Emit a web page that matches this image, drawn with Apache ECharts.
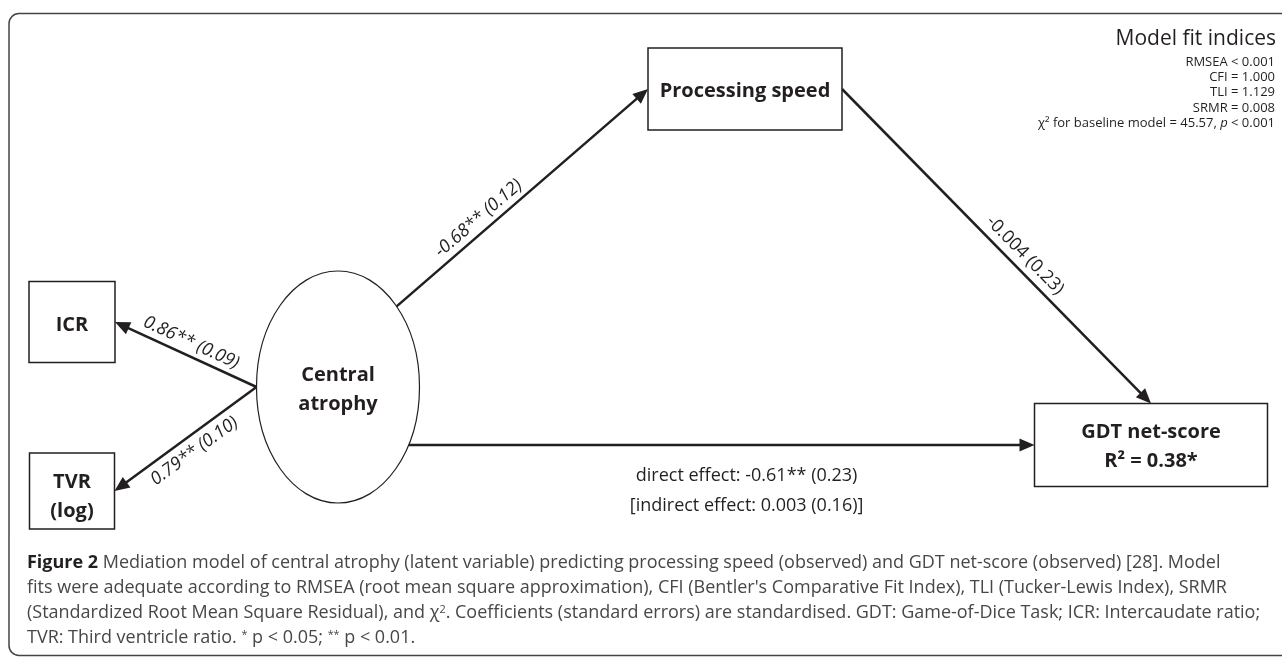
<!DOCTYPE html>
<html>
<head>
<meta charset="utf-8">
<title>Mediation model of central atrophy</title>
<script src="https://cdn.jsdelivr.net/npm/echarts@6/dist/echarts.min.js"></script>
<style>
  html, body { margin: 0; padding: 0; background: #fff; }
  #chart { width: 1282px; height: 660px; }
</style>
</head>
<body>
<div id="chart"></div>
<script>
// variables of the path model
const nodeNames = ['Central atrophy', 'Processing speed', 'ICR', 'TVR', 'GDT net-score'];
const nodeTypes = ['latent', 'observed', 'observed', 'observed', 'observed'];
const nodeNotes = ['', '', '', '(log)', ''];

// paths: standardised coefficient, significance stars, standard error
const pathSources = ['Central atrophy', 'Processing speed', 'Central atrophy', 'Central atrophy', 'Central atrophy'];
const pathTargets = ['Processing speed', 'GDT net-score', 'ICR', 'TVR', 'GDT net-score'];
const pathEstimates = ['-0.68', '-0.004', '0.86', '0.79', '-0.61'];
const pathStars = ['**', '', '**', '**', '**'];
const pathErrors = ['0.12', '0.23', '0.09', '0.10', '0.23'];

const indirectEstimate = '0.003';
const indirectError = '0.16';
const gdtRSquared = '0.38';
const gdtStars = '*';

// model fit
const fitIndexNames = ['RMSEA', 'CFI', 'TLI', 'SRMR'];
const fitIndexSigns = ['<', '=', '=', '='];
const fitIndexValues = ['0.001', '1.000', '1.129', '0.008'];
const baselineChiSquare = '45.57';
const baselineP = '< 0.001';

const captionLines = [
  '{b|Figure 2} Mediation model of central atrophy (latent variable) predicting processing speed (observed) and GDT net-score (observed) [28]. Model',
  'fits were adequate according to RMSEA (root mean square approximation), CFI (Bentler\'s Comparative Fit Index), TLI (Tucker-Lewis Index), SRMR',
  '(Standardized Root Mean Square Residual), and χ{s|2}. Coefficients (standard errors) are standardised. GDT: Game-of-Dice Task; ICR: Intercaudate ratio;',
  'TVR: Third ventricle ratio. {s|*} p < 0.05; {s|**} p < 0.01.'
];

// drawing layout (pixel units of the hidden axes)
const layout = {
  'Central atrophy': { x: 338, y: 387, w: 163, h: 232, dy: 3 },
  'Processing speed': { x: 745, y: 89, w: 194, h: 82, dy: 2 },
  'ICR': { x: 72, y: 322, w: 86, h: 81, dy: 3 },
  'TVR': { x: 72, y: 491, w: 85, h: 76, dy: 6 },
  'GDT net-score': { x: 1151, y: 445, w: 233, h: 83, dy: 2 }
};
// anchor: number = angle on the ellipse, string = side of a box
const pathLayout = [
  { from: -44, to: 'left', t: 0.36, off: 13, italic: true },
  { from: 'right', to: 'top', t: 0.56, off: 14, italic: false },
  { from: 180, to: 'right', t: 0.5, off: 13, italic: true },
  { from: 180, to: 'right', t: 0.5, off: -15, italic: true },
  { from: 30, to: 'left', t: 0.54, off: -46, italic: false }
];

const ink = '#231f20';
const captionInk = '#474747';
const font = '"Open Sans", "Noto Sans", sans-serif';

function anchorPoint(name, spec) {
  const n = layout[name];
  if (typeof spec === 'number') {
    const a = spec * Math.PI / 180;
    return [n.x + n.w / 2 * Math.cos(a), n.y + n.h / 2 * Math.sin(a)];
  }
  if (spec === 'left') return [n.x - n.w / 2, n.y];
  if (spec === 'right') return [n.x + n.w / 2, n.y];
  if (spec === 'top') return [n.x, n.y - n.h / 2];
  return [n.x, n.y + n.h / 2];
}

function pathLabel(i) {
  const coef = pathEstimates[i] + pathStars[i] + ' (' + pathErrors[i] + ')';
  if (i === 4) {
    return 'direct effect: ' + coef + '\n[indirect effect: ' + indirectEstimate + ' (' + indirectError + ')]';
  }
  return coef;
}

function nodeLabel(i) {
  let s = nodeNames[i];
  if (nodeNames[i] === 'Central atrophy') s = 'Central\natrophy';
  if (nodeNotes[i]) s += '\n' + nodeNotes[i];
  if (nodeNames[i] === 'GDT net-score') s += '\nR² = ' + gdtRSquared + gdtStars;
  return s;
}

// caption size: the widest of the full lines fits the frame
const measure = document.createElement('canvas').getContext('2d');
function widthAt(str, weight) {
  measure.font = weight + ' 16px ' + font;
  return measure.measureText(str).width;
}
const capWidths = captionLines.slice(0, 3).map(line => {
  const bold = (line.match(/\{b\|([^}]*)\}/) || [null, ''])[1];
  const plain = line.replace(/\{b\|[^}]*\}/, '').replace(/\{s\|([^}]*)\}/g, '$1');
  return widthAt(bold, 'bold') + widthAt(plain, 'normal');
});
const capSize = Math.min(20, 16 * 1238 / Math.max.apply(null, capWidths));

const chart = echarts.init(document.getElementById('chart'));

chart.setOption({
  animation: false,
  grid: { left: 0, right: 0, top: 0, bottom: 0 },
  xAxis: { type: 'value', min: 0, max: 1282, show: false },
  yAxis: { type: 'value', min: 0, max: 660, inverse: true, show: false },
  graphic: [
    {
      type: 'rect',
      shape: { x: 9, y: 13.5, width: 1290, height: 642, r: 10 },
      style: { fill: 'none', stroke: '#444', lineWidth: 1.5 },
      z: 0
    }
  ].concat(captionLines.map((line, i) => ({
    type: 'text',
    x: 27,
    y: 563 + 25 * i,
    style: {
      text: line,
      fill: captionInk,
      font: capSize + 'px ' + font,
      verticalAlign: 'middle',
      rich: {
        b: { fontWeight: 'bold', fill: ink, fontSize: capSize, fontFamily: font, lineHeight: 24 },
        s: { fontSize: capSize * 0.6, fontFamily: font, verticalAlign: 'top', lineHeight: 12, fill: captionInk }
      }
    }
  }))),
  series: [
    {
      type: 'custom',
      name: 'paths',
      coordinateSystem: 'cartesian2d',
      data: pathEstimates.map((e, i) => [i, Number(e)]),
      renderItem: function (params, api) {
        const i = params.dataIndex;
        const pl = pathLayout[i];
        const p1 = api.coord(anchorPoint(pathSources[i], pl.from));
        const p2 = api.coord(anchorPoint(pathTargets[i], pl.to));
        const dx = p2[0] - p1[0], dy = p2[1] - p1[1];
        const len = Math.hypot(dx, dy);
        const ux = dx / len, uy = dy / len;
        const head = 15, half = 6.5;
        const bx = p2[0] - ux * head, by = p2[1] - uy * head;
        let r = Math.atan2(-dy, dx);
        if (r > Math.PI / 2) r -= Math.PI;
        else if (r < -Math.PI / 2) r += Math.PI;
        const upx = -Math.sin(r), upy = -Math.cos(r);
        const lx = p1[0] + dx * pl.t + upx * pl.off;
        const ly = p1[1] + dy * pl.t + upy * pl.off;
        return {
          type: 'group',
          children: [
            {
              type: 'line',
              shape: { x1: p1[0], y1: p1[1], x2: bx + ux, y2: by + uy },
              style: { stroke: ink, lineWidth: 2.5 }
            },
            {
              type: 'polygon',
              shape: { points: [p2, [bx - uy * half, by + ux * half], [bx + uy * half, by - ux * half]] },
              style: { fill: ink }
            },
            {
              type: 'text',
              x: lx,
              y: ly,
              rotation: i === 4 ? 0 : r,
              style: {
                text: pathLabel(i),
                align: 'center',
                verticalAlign: 'middle',
                fill: ink,
                font: (pl.italic ? 'italic ' : '') + '18px ' + font,
                lineHeight: 30
              }
            }
          ]
        };
      },
      z: 2
    },
    {
      type: 'custom',
      name: 'variables',
      coordinateSystem: 'cartesian2d',
      data: nodeNames.map((n, i) => [layout[n].x, layout[n].y]),
      renderItem: function (params, api) {
        const i = params.dataIndex;
        const n = layout[nodeNames[i]];
        const c = api.coord([n.x, n.y]);
        const shape = nodeTypes[i] === 'latent'
          ? { type: 'ellipse', shape: { cx: c[0], cy: c[1], rx: n.w / 2, ry: n.h / 2 }, style: { fill: '#fff', stroke: ink, lineWidth: 1.2 } }
          : { type: 'rect', shape: { x: c[0] - n.w / 2, y: c[1] - n.h / 2, width: n.w, height: n.h }, style: { fill: '#fff', stroke: ink, lineWidth: 1.5 } };
        return {
          type: 'group',
          children: [
            shape,
            {
              type: 'text',
              x: c[0],
              y: c[1] + n.dy,
              style: {
                text: nodeLabel(i),
                align: 'center',
                verticalAlign: 'middle',
                fill: ink,
                font: 'bold 20px ' + font,
                lineHeight: 29
              }
            }
          ]
        };
      },
      z: 3
    },
    {
      type: 'custom',
      name: 'fit indices',
      coordinateSystem: 'cartesian2d',
      data: fitIndexValues.concat([baselineChiSquare]).map((v, i) => [i, Number(v)]),
      renderItem: function (params, api) {
        const i = params.dataIndex;
        const p = api.coord([1275, 62 + 15.3 * i]);
        const text = i < fitIndexNames.length
          ? fitIndexNames[i] + ' ' + fitIndexSigns[i] + ' ' + fitIndexValues[i]
          : 'χ² for baseline model = ' + baselineChiSquare + ', {i|p} ' + baselineP;
        const children = [{
          type: 'text',
          x: p[0],
          y: p[1],
          style: {
            text: text,
            align: 'right',
            verticalAlign: 'middle',
            fill: ink,
            font: '13px ' + font,
            rich: { i: { fontStyle: 'italic', fontSize: 13, fontFamily: font, fill: ink } }
          }
        }];
        if (i === 0) {
          const h = api.coord([1276, 39]);
          children.push({
            type: 'text',
            x: h[0],
            y: h[1],
            style: { text: 'Model fit indices', align: 'right', verticalAlign: 'middle', fill: ink, font: '21px ' + font }
          });
        }
        return { type: 'group', children: children };
      },
      z: 2
    }
  ]
});
</script>
</body>
</html>
